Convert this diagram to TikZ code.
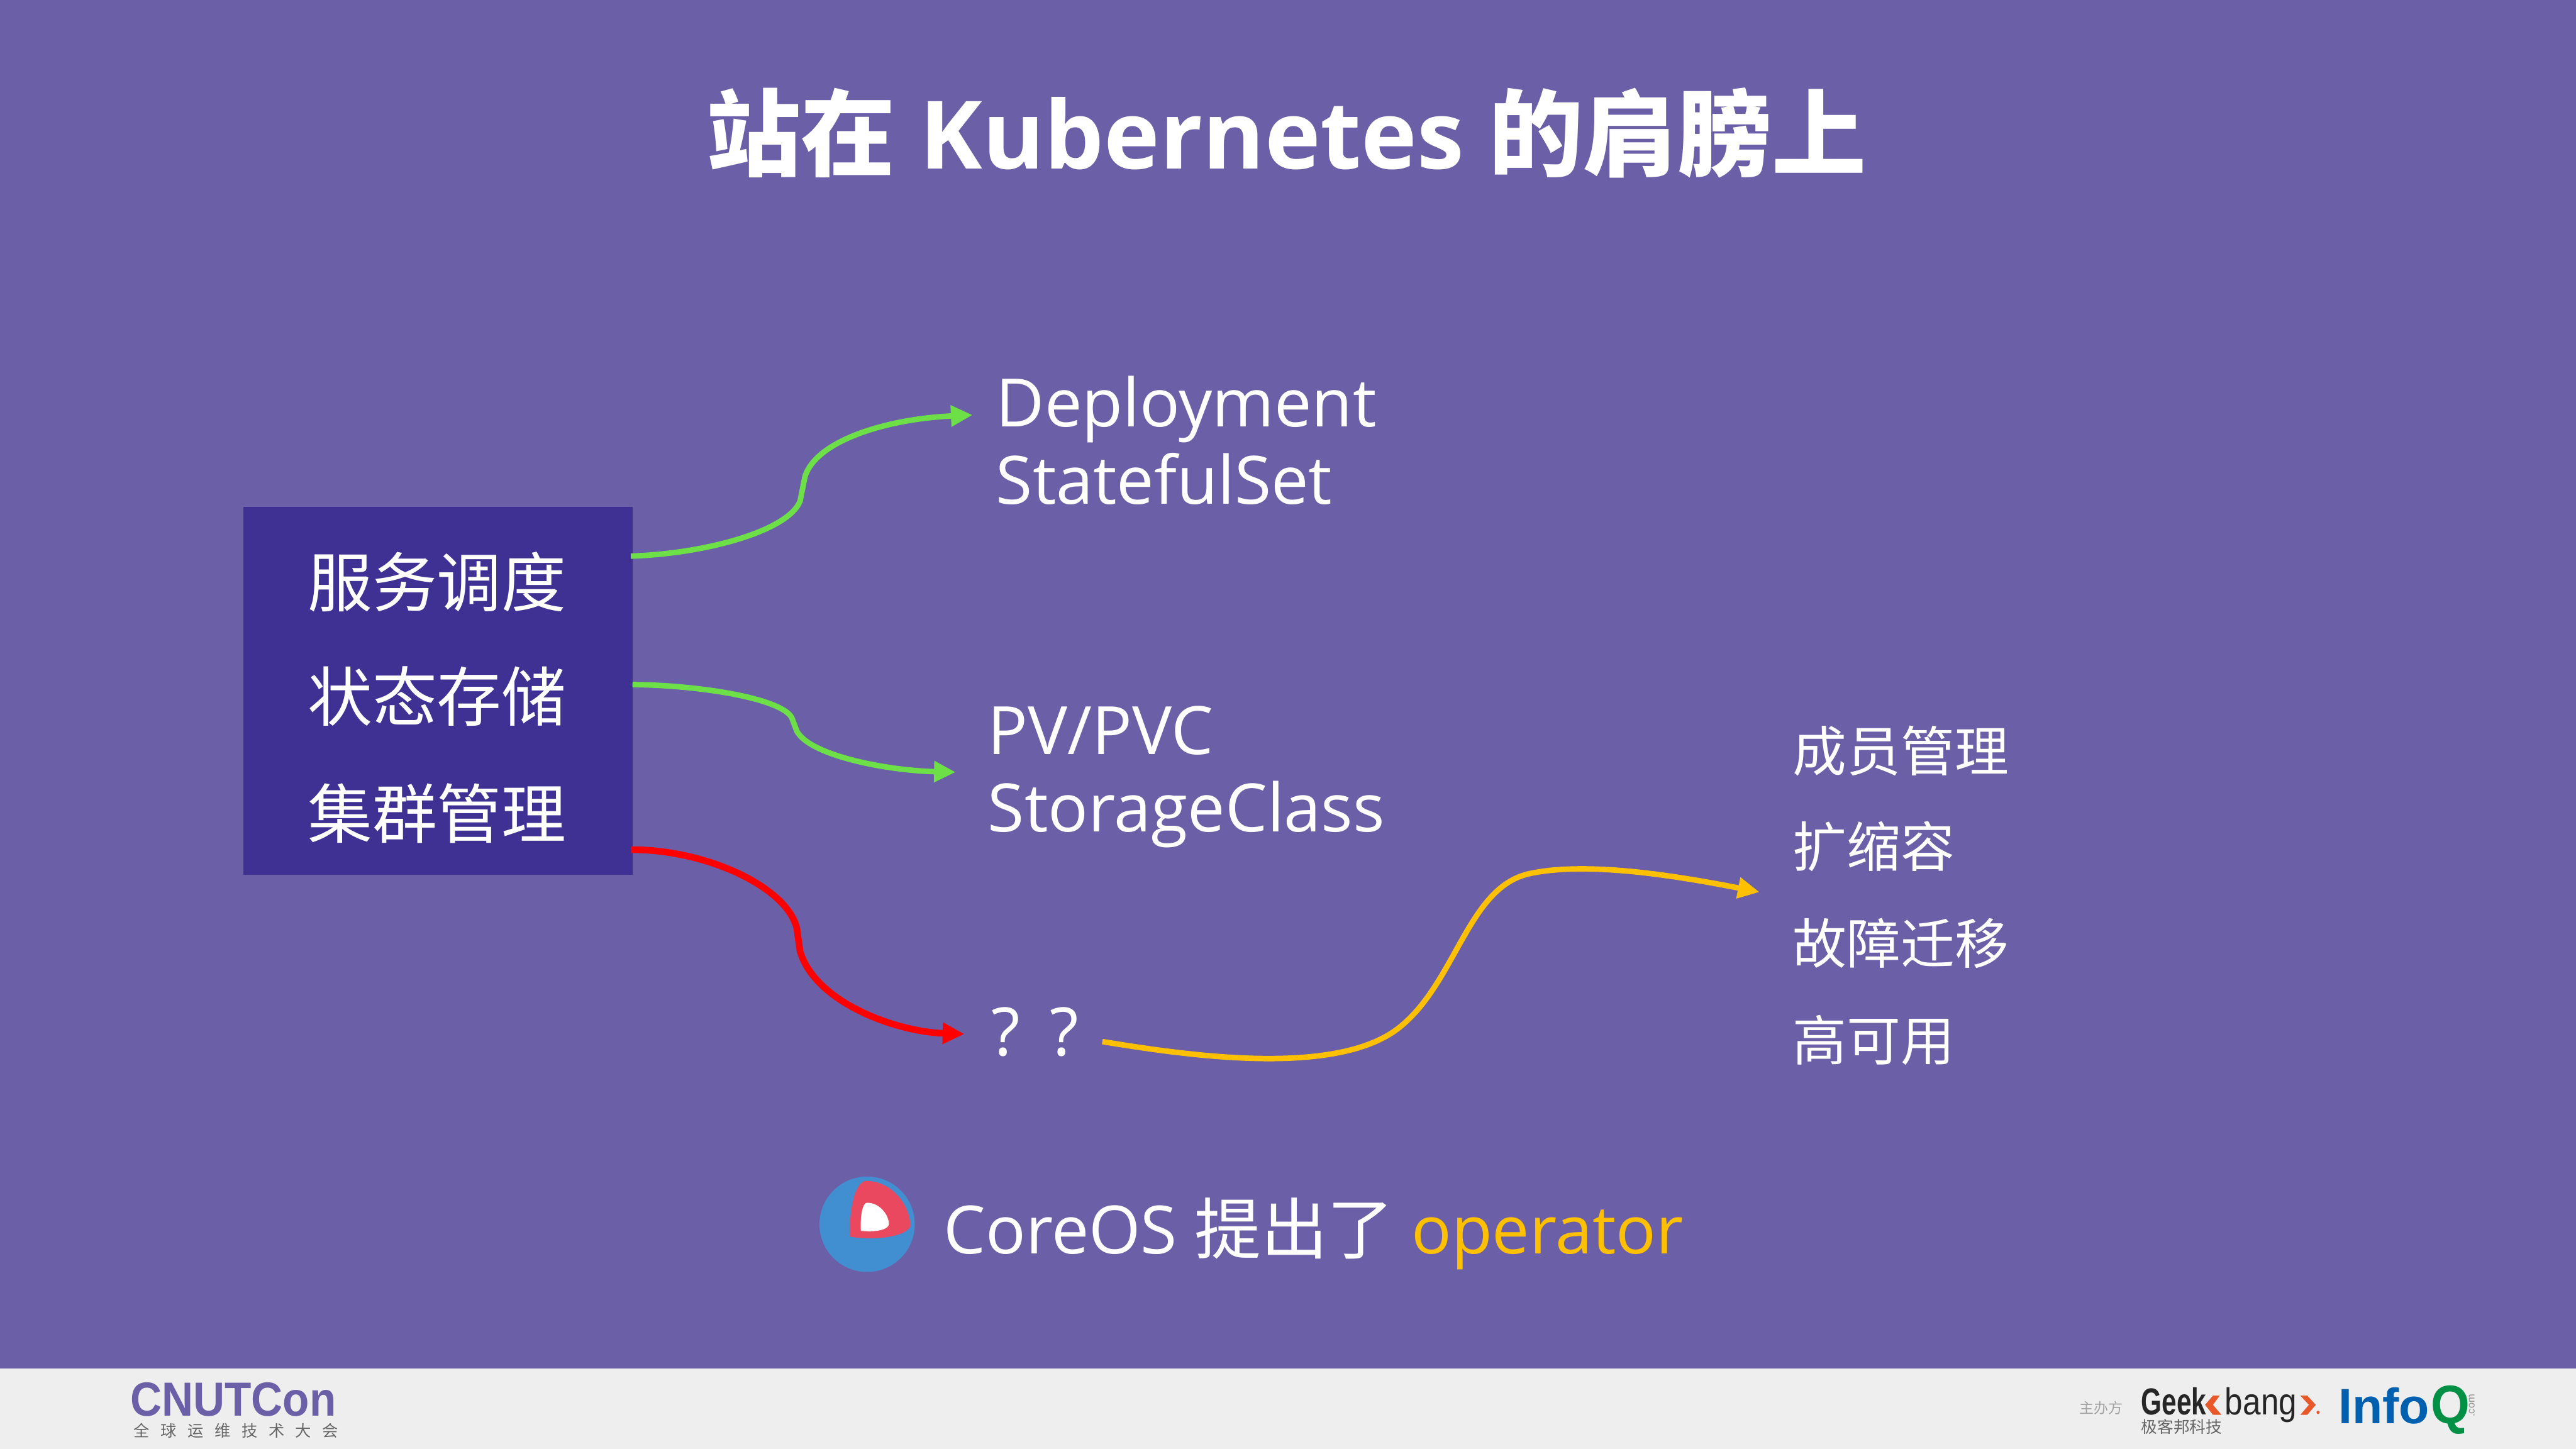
\documentclass[tikz,border=0pt]{standalone}
\usepackage{fontspec}
\usepackage{graphicx}
\setmainfont{Open Sans}
\newfontfamily\cjk{Noto Sans CJK SC}
\newfontfamily\cjkwide[LetterSpace=70]{Noto Sans CJK SC}
\newfontfamily\logofont{Liberation Sans}
\usetikzlibrary{arrows.meta}
\definecolor{slidebg}{HTML}{6B60A8}
\definecolor{boxbg}{HTML}{3F3194}
\definecolor{footbg}{HTML}{EEEEEE}
\definecolor{okgreen}{HTML}{6CE046}
\definecolor{opyellow}{HTML}{FFC000}
\definecolor{coreblue}{HTML}{418FD1}
\definecolor{corered}{HTML}{E9485E}
\definecolor{logogray}{HTML}{666666}
\definecolor{geekorange}{HTML}{E8582A}
\definecolor{infoblue}{HTML}{0060B0}
\definecolor{infogreen}{HTML}{009045}
\tikzset{
  big/.style={text=white,inner sep=0pt,font=\fontsize{23.1}{26.9}\selectfont,align=left,anchor=west},
  boxlabel/.style={text=white,inner sep=0pt,font=\cjk\fontsize{22.4}{26}\selectfont},
  listlabel/.style={text=white,inner sep=0pt,anchor=west,font=\cjk\fontsize{18.7}{22}\selectfont},
  flow/.style={line width=1.9pt,-{Triangle[length=7.5pt,width=7pt]}},
  logotext/.style={inner sep=0pt,anchor=base west},
}
\begin{document}
\begin{tikzpicture}[x=0.02cm,y=-0.02cm]
  \fill[slidebg] (0,0) rectangle (1568,882);
  \useasboundingbox (0,0) rectangle (1568,882);
  \fill[footbg] (0,833) rectangle (1568,882);

  \node(title) at (783,81)[text=white,inner sep=0pt,font=\bfseries\fontsize{32.7}{36}\selectfont]{{\cjk 站在} Kubernetes {\cjk 的肩膀上}};

  \node(box) at (266.5,420.5)[fill=boxbg,minimum width=237*0.02cm,minimum height=224*0.02cm,inner sep=0pt]{};
  \node[boxlabel](sched) at (266,354){服务调度};
  \node[boxlabel](state) at (266,424){状态存储};
  \node[boxlabel](cluster) at (266,495){集群管理};

  \node[big](deploy) at (606,268){Deployment\\StatefulSet};
  \node[big](pv) at (601,473){PV/PVC\\StorageClass};
  \node[big](qq) at (603,628){?\hspace{0.45em}?};

  \foreach \name/\txt/\ypos in {member/成员管理/457,scale/扩缩容/515,fail/故障迁移/574,ha/高可用/633}
    \node[listlabel](\name) at (1091,\ypos){\txt};

  % arrow ends
  \coordinate(s1) at (384,338.5);
  \coordinate(e1) at (592,252.6);
  \coordinate(s2) at (385,416.7);
  \coordinate(e2) at (581.7,470);
  \coordinate(s3) at (384,517.2);
  \coordinate(e3) at (587,629.4);
  \coordinate(s4) at (671,634);
  \coordinate(e4) at (1071,543);

  \draw[flow,color=okgreen] (s1) .. controls (430,337) and (480,323) .. (487,305) -- (490,290) .. controls (497,268) and (540,255) .. (e1);
  \draw[flow,color=okgreen] (s2) .. controls (425,417) and (476,425) .. (482,437) -- (485,445) .. controls (493,460) and (540,469) .. (e2);
  \draw[flow,color=red,line width=2.3pt] (s3) .. controls (430,517) and (479,540) .. (485,565) -- (487,579) .. controls (496,610) and (545,628) .. (e3);
  \draw[flow,color=opyellow] (s4) .. controls (720,642) and (812,656) .. (851,626) .. controls (886,599) and (893,541) .. (930,532) .. controls (965,524) and (1020,533) .. (e4);

  % coreos logo
  \fill[coreblue] (527.8,745.2) circle (29);
  \fill[corered] (517.6,752.8) .. controls (516.5,735) and (521,719) .. (527.3,718.8) .. controls (543,719) and (553.5,733) .. (554.2,745.9) .. controls (553,752) and (535,755.5) .. (517.6,752.8);
  \fill[white] (524,749.2) .. controls (523.5,740) and (525,732.2) .. (527.8,732.1) .. controls (535,732) and (541,739) .. (541.1,745.4) .. controls (540,749) and (532,750) .. (524,749.2);
  \node[text=white,inner sep=0pt,anchor=west,font=\fontsize{23.05}{26}\selectfont](coreos) at (574,751){CoreOS {\cjk 提出了} \textcolor{opyellow}{operator}};

  % footer logos
  \node[logotext,text=slidebg,font=\logofont\bfseries\fontsize{16.6}{18}\selectfont](cnutcon) at (79,862){\scalebox{0.91}[1]{CNUTCon}};
  \node[text=logogray,inner sep=0pt,anchor=west,font=\cjkwide\fontsize{5.5}{6}\selectfont](cnutsub) at (81,871){全球运维技术大会};
  \node[text=logogray!60,inner sep=0pt,font=\cjk\fontsize{5}{6}\selectfont](host) at (1279,857){主办方};
  \node[logotext,text=black!85,font=\logofont\bfseries\fontsize{13}{14}\selectfont](geek) at (1303,861.3){\scalebox{0.71}[1]{Geek}};
  \node[logotext,text=black!85,font=\logofont\fontsize{13}{14}\selectfont](bang) at (1354,861.3){\scalebox{0.86}[1]{bang}};
  \fill[geekorange] (1351.1,849.5) -- (1347,849.5) -- (1342.2,855.1) -- (1347,861.2) -- (1352.2,861.2) -- (1347,855.1) -- cycle;
  \fill[geekorange] (1400.2,849.5) -- (1404.4,849.5) -- (1409.6,855.1) -- (1404.4,861.2) -- (1400.2,861.2) -- (1405.4,855.1) -- cycle;
  \fill[geekorange] (1411,859.7) circle (1);
  \node[text=logogray,inner sep=0pt,anchor=west,font=\cjk\fontsize{5.6}{6}\selectfont](geeksub) at (1303,868.6){极客邦科技};
  \node[logotext,text=infoblue,font=\logofont\bfseries\fontsize{17.2}{18}\selectfont](info) at (1423,866.3){Info};
  \node[logotext,text=infogreen,font=\logofont\bfseries\fontsize{18.8}{20}\selectfont](infoq) at (1479.5,866.6){\scalebox{0.92}[1]{Q}};
  \node[text=logogray!70,inner sep=0pt,rotate=90,font=\logofont\fontsize{3.6}{4}\selectfont](infocom) at (1504.5,855.5){.com};
\end{tikzpicture}
\end{document}
